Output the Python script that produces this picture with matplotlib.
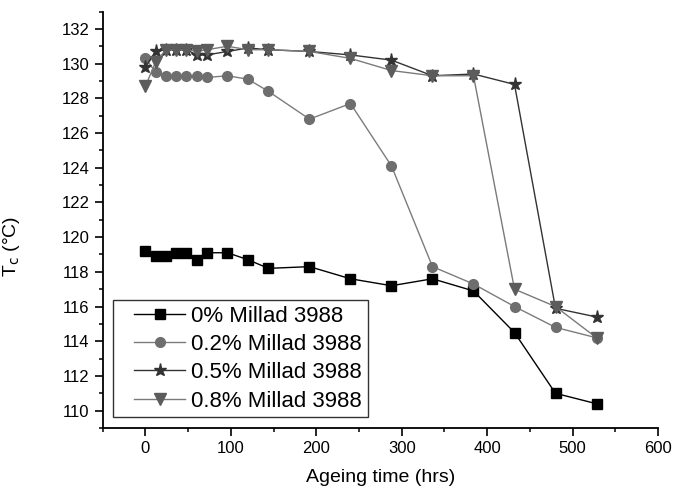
import matplotlib
matplotlib.use('Agg')
import matplotlib.pyplot as plt
from matplotlib.lines import Line2D
from matplotlib.legend_handler import HandlerLine2D
from matplotlib.ticker import MultipleLocator

plt.rcParams['font.family'] = ['Liberation Sans', 'DejaVu Sans']

# ageing time (hrs)
hours = [0, 12, 24, 36, 48, 60, 72, 96, 120, 144, 192, 240, 288, 336, 384, 432, 480, 528]

# crystallisation temperature Tc (°C)
tc_0 = [119.2, 118.9, 118.9, 119.1, 119.1, 118.7, 119.1, 119.1, 118.7, 118.2,
        118.3, 117.6, 117.2, 117.6, 116.9, 114.5, 111.0, 110.4]
tc_02 = [130.3, 129.5, 129.3, 129.3, 129.3, 129.3, 129.2, 129.3, 129.1, 128.4,
         126.8, 127.7, 124.1, 118.3, 117.3, 116.0, 114.8, 114.2]
tc_05 = [129.8, 130.7, 130.8, 130.8, 130.8, 130.5, 130.5, 130.7, 130.9, 130.8,
         130.7, 130.5, 130.2, 129.3, 129.4, 128.8, 115.9, 115.4]
tc_08 = [128.7, 130.1, 130.8, 130.8, 130.8, 130.7, 130.8, 131.0, 130.8, 130.8,
         130.7, 130.3, 129.6, 129.3, 129.3, 117.0, 116.0, 114.2]

labels = ['0% Millad 3988', '0.2% Millad 3988', '0.5% Millad 3988', '0.8% Millad 3988']

fig = plt.figure(figsize=(6.74, 4.87), dpi=100)
ax = fig.add_axes([0.1524, 0.1211, 0.8239, 0.8552])

ax.plot(hours, tc_0, c='black', lw=1, marker='s', ms=6.5, mfc='black', mec='black', label=labels[0])
ax.plot(hours, tc_02, c='#7c7c7c', lw=1, marker='o', ms=7, mfc='#6e6e6e', mec='#6e6e6e', label=labels[1])
ax.plot(hours, tc_05, c='#333333', lw=1, marker='*', ms=9.5, mfc='#333333', mec='#333333', label=labels[2])
ax.plot(hours, tc_08, c='#7a7a7a', lw=1, marker='v', ms=8, mfc='#5c5c5c', mec='#5c5c5c', label=labels[3])

ax.set_xlim(-50, 600)
ax.set_ylim(109, 133)
ax.xaxis.set_major_locator(MultipleLocator(100))
ax.xaxis.set_minor_locator(MultipleLocator(50))
ax.yaxis.set_major_locator(MultipleLocator(2))
ax.yaxis.set_minor_locator(MultipleLocator(1))

ax.spines['top'].set_visible(False)
ax.spines['right'].set_visible(False)
ax.spines['left'].set_linewidth(1.3)
ax.spines['bottom'].set_linewidth(1.3)
ax.tick_params(which='major', direction='out', length=5.5, width=1.2, labelsize=12, pad=4)
ax.tick_params(which='minor', direction='out', length=3, width=1.1)

ax.set_xlabel('Ageing time (hrs)', fontsize=14, labelpad=9)
ax.set_ylabel(r'T$_\mathrm{c}$ (°C)', fontsize=14)
ax.yaxis.set_label_coords(-0.145, 0.435)

leg = ax.legend(loc='upper left', bbox_to_anchor=(113 / 674, 1 - 300 / 487),
                bbox_transform=fig.transFigure, borderaxespad=0, fontsize=16,
                handlelength=3.0, handletextpad=0.28, labelspacing=0.33, borderpad=0.25,
                fancybox=False, framealpha=1,
                handler_map={Line2D: HandlerLine2D(xpad=0.7)})
leg.get_frame().set_edgecolor('#333333')
leg.get_frame().set_linewidth(1.0)

fig.savefig('out.png', dpi=100)
